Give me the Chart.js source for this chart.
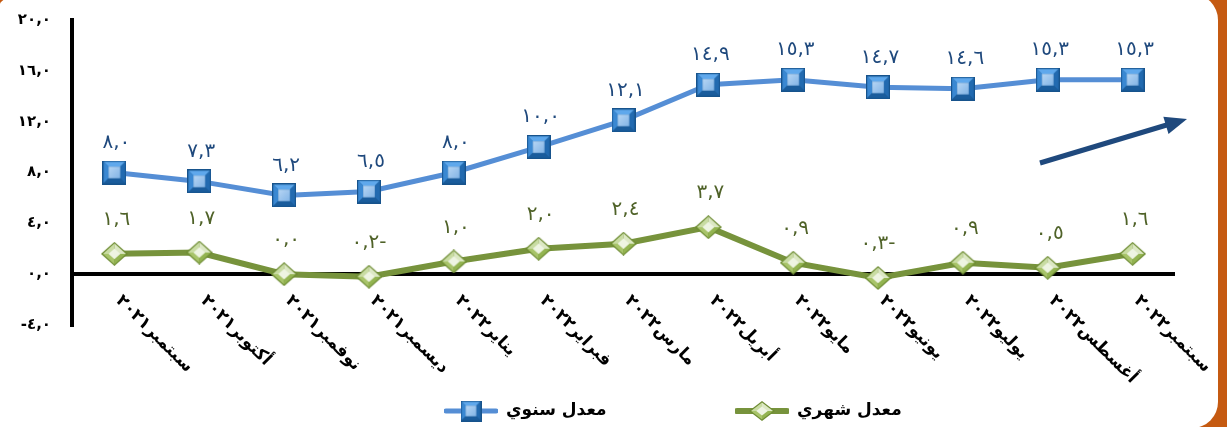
<!DOCTYPE html>
<html>
<head>
<meta charset="utf-8">
<script src="https://cdn.jsdelivr.net/npm/chart.js@4.4.1/dist/chart.umd.min.js"></script>
<style>
  html, body { margin: 0; padding: 0; }
  body { width: 1227px; height: 427px; background: #C55A11; overflow: hidden; position: relative; }
  #panel { position: absolute; left: -6px; top: -6px; width: 1224px; height: 434px; background: #ffffff; border-radius: 26px 26px 26px 0; }
  #c { position: absolute; left: 0; top: -10px; }
</style>
</head>
<body>
<div id="panel"></div>
<canvas id="c" width="1227" height="437"></canvas>
<script>
// ---- data ----
const categories = ['سبتمبر٢٠٢١','أكتوبر٢٠٢١','نوفمبر٢٠٢١','ديسمبر٢٠٢١','يناير٢٠٢٢','فبراير٢٠٢٢','مارس٢٠٢٢','أبريل٢٠٢٢','مايو٢٠٢٢','يونيو٢٠٢٢','يوليو٢٠٢٢','أغسطس٢٠٢٢','سبتمبر٢٠٢٢'];
const annualRate = [8.0, 7.3, 6.2, 6.5, 8.0, 10.0, 12.1, 14.9, 15.3, 14.7, 14.6, 15.3, 15.3];
const monthlyRate = [1.6, 1.7, 0.0, -0.2, 1.0, 2.0, 2.4, 3.7, 0.9, -0.3, 0.9, 0.5, 1.6];
const seriesNames = ['معدل سنوي', 'معدل شهري'];
const yTicks = [-4, 0, 4, 8, 12, 16, 20];

// ---- helpers ----
const AR_DIGITS = '٠١٢٣٤٥٦٧٨٩';
function toArabic(v) {
  return Math.abs(v).toFixed(1).replace(/\d/g, d => AR_DIGITS[+d]).replace('.', ',');
}
function tickText(v) { return (v < 0 ? '-' : '') + toArabic(v); }
function dataText(v) { return toArabic(v) + (v < 0 ? '-' : ''); }

function squareMarker(s) {
  const c = document.createElement('canvas'); c.width = s; c.height = s;
  const g = c.getContext('2d');
  g.fillStyle = '#17538C'; g.fillRect(0, 0, s, s);
  const o = 1.2, b = Math.round(s * 0.2);
  const poly = (pts, col) => { g.beginPath(); g.moveTo(pts[0][0], pts[0][1]); for (let i = 1; i < pts.length; i++) g.lineTo(pts[i][0], pts[i][1]); g.closePath(); g.fillStyle = col; g.fill(); };
  poly([[o,o],[s-o,o],[s-o-b,o+b],[o+b,o+b]], '#5FA8EC');
  poly([[o,o],[o+b,o+b],[o+b,s-o-b],[o,s-o]], '#3A88D2');
  poly([[s-o,o],[s-o,s-o],[s-o-b,s-o-b],[s-o-b,o+b]], '#226AB0');
  poly([[o,s-o],[s-o,s-o],[s-o-b,s-o-b],[o+b,s-o-b]], '#1A5C9C');
  const gr = g.createLinearGradient(o+b, o+b, s-o-b, s-o-b);
  gr.addColorStop(0, '#B7D6F4'); gr.addColorStop(1, '#82B4E6');
  g.fillStyle = gr; g.fillRect(o+b, o+b, s-2*(o+b), s-2*(o+b));
  return c;
}
function diamondMarker(w, h) {
  const c = document.createElement('canvas'); c.width = w; c.height = h;
  const g = c.getContext('2d');
  const cx = w/2, cy = h/2;
  const tri = (a, b2, col) => { g.beginPath(); g.moveTo(cx, cy); g.lineTo(a[0], a[1]); g.lineTo(b2[0], b2[1]); g.closePath(); g.fillStyle = col; g.fill(); };
  g.beginPath(); g.moveTo(cx, 0); g.lineTo(w, cy); g.lineTo(cx, h); g.lineTo(0, cy); g.closePath(); g.fillStyle = '#6E8C33'; g.fill();
  const t = [cx, 1.6], r = [w-2, cy], btm = [cx, h-1.6], l = [2, cy];
  tri(l, t, '#C9DCA3'); tri(t, r, '#DCE8C4'); tri(l, btm, '#A8C46A'); tri(btm, r, '#93B451');
  g.beginPath(); g.moveTo(cx, cy - h*0.22); g.lineTo(cx + w*0.22, cy); g.lineTo(cx, cy + h*0.22); g.lineTo(cx - w*0.22, cy); g.closePath();
  g.fillStyle = '#EEF4E2'; g.fill();
  return c;
}
function legendImage(marker, color, lw) {
  const W = 54, H = 24;
  const c = document.createElement('canvas'); c.width = W; c.height = H;
  const g = c.getContext('2d');
  g.strokeStyle = color; g.lineWidth = lw; g.lineCap = 'round';
  g.beginPath(); g.moveTo(2, H/2); g.lineTo(W-2, H/2); g.stroke();
  g.drawImage(marker, (W - marker.width)/2, (H - marker.height)/2);
  return c;
}

const sq = squareMarker(24);
const dm = diamondMarker(27, 24);
const sqSmall = squareMarker(21);
const dmSmall = diamondMarker(26, 20);

const FONT = '"DejaVu Sans", "Noto Sans", sans-serif';
const CANVAS_SHIFT = 10; // canvas is placed 10px above the page top

const labelPlugin = {
  id: 'labels',
  afterDatasetsDraw(chart) {
    const ctx = chart.ctx;
    const colors = ['#1F497D', '#4F6228'];
    const offs = [30, 34];
    chart.data.datasets.forEach((ds, i) => {
      const meta = chart.getDatasetMeta(i);
      ctx.save();
      ctx.font = '20px ' + FONT;
      ctx.fillStyle = colors[i];
      ctx.textAlign = 'center';
      ctx.textBaseline = 'middle';
      ctx.direction = 'ltr';
      ctx.letterSpacing = '4px';
      meta.data.forEach((pt, j) => {
        ctx.fillText(dataText(ds.data[j]), pt.x + 2, pt.y - offs[i]);
      });
      ctx.restore();
    });
  },
  afterDraw(chart) {
    const ctx = chart.ctx;
    const xs = chart.scales.x, ys = chart.scales.y;
    const y0 = ys.getPixelForValue(0);
    // rotated category labels
    ctx.save();
    ctx.font = 'bold 17px ' + FONT;
    ctx.fillStyle = '#000';
    ctx.letterSpacing = '2px';
    categories.forEach((lab, i) => {
      const x = xs.getPixelForTick(i);
      ctx.save();
      ctx.translate(x + 4, y0 + 24);
      ctx.rotate(Math.PI / 4);
      ctx.direction = 'rtl';
      ctx.textAlign = 'left';
      ctx.textBaseline = 'middle';
      ctx.fillText(lab, 0, 0);
      ctx.restore();
    });
    ctx.restore();

    // trend arrow
    ctx.save();
    ctx.translate(0, CANVAS_SHIFT);
    ctx.strokeStyle = '#1F497D'; ctx.fillStyle = '#1F497D';
    ctx.lineWidth = 5;
    const x1 = 1040, y1 = 163, x2 = 1170, y2 = 124;
    ctx.beginPath(); ctx.moveTo(x1, y1); ctx.lineTo(x2, y2); ctx.stroke();
    const ang = Math.atan2(y2 - y1, x2 - x1);
    const tipX = 1187, tipY = 119;
    ctx.beginPath();
    ctx.moveTo(tipX, tipY);
    ctx.lineTo(tipX - 22*Math.cos(ang) + 9*Math.sin(ang), tipY - 22*Math.sin(ang) - 9*Math.cos(ang));
    ctx.lineTo(tipX - 22*Math.cos(ang) - 9*Math.sin(ang), tipY - 22*Math.sin(ang) + 9*Math.cos(ang));
    ctx.closePath(); ctx.fill();
    ctx.restore();

    // legend
    ctx.save();
    ctx.translate(0, CANVAS_SHIFT);
    ctx.font = 'bold 17px ' + FONT;
    ctx.fillStyle = '#000';
    ctx.textBaseline = 'middle';
    ctx.textAlign = 'left';
    ctx.direction = 'rtl';
    const imgs = [legendImage(sqSmall, '#558ED5', 5), legendImage(dmSmall, '#77933C', 6)];
    const starts = [444, 735];
    const ly = 411;
    seriesNames.forEach((nm, i) => {
      ctx.drawImage(imgs[i], starts[i], ly - imgs[i].height/2);
      ctx.fillText(nm, starts[i] + 62, ly);
    });
    ctx.restore();
  }
};

new Chart(document.getElementById('c'), {
  type: 'line',
  data: {
    labels: categories,
    datasets: [
      { label: seriesNames[0], data: annualRate, borderColor: '#558ED5', borderWidth: 5, pointStyle: sq, pointRadius: 12, tension: 0, fill: false },
      { label: seriesNames[1], data: monthlyRate, borderColor: '#77933C', borderWidth: 6, pointStyle: dm, pointRadius: 12, tension: 0, fill: false }
    ]
  },
  options: {
    responsive: false,
    animation: false,
    devicePixelRatio: 1,
    layout: { padding: { left: 0, right: 52, top: 8, bottom: 102 } },
    plugins: { legend: { display: false }, tooltip: { enabled: false } },
    scales: {
      x: {
        type: 'category',
        offset: true,
        display: true,
        grid: { display: false, drawTicks: false },
        border: { display: false },
        ticks: { display: false }
      },
      y: {
        min: -4, max: 20,
        afterFit(scale) { scale.width = 72; },
        afterBuildTicks(scale) { scale.ticks = yTicks.map(v => ({ value: v })); },
        ticks: {
          padding: 21,
          color: '#000',
          font: { family: FONT, size: 15, weight: 'bold' },
          callback: v => tickText(v)
        },
        grid: {
          display: true,
          drawTicks: false,
          color: ctx => (ctx.tick && ctx.tick.value === 0) ? '#000' : 'rgba(0,0,0,0)',
          lineWidth: 4
        },
        border: { display: true, color: '#000', width: 4 }
      }
    }
  },
  plugins: [labelPlugin]
});
</script>
</body>
</html>
